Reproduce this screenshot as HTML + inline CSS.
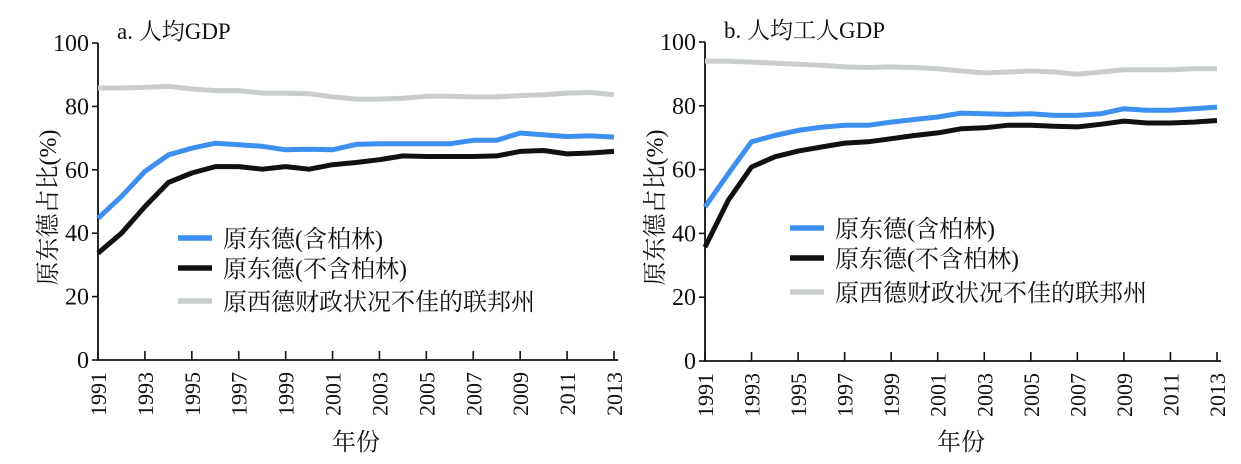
<!DOCTYPE html>
<html><head><meta charset="utf-8"><style>
body{margin:0;background:#fff;}
svg text{font-family:"Liberation Serif","Noto Serif CJK SC",serif;fill:#111;}
</style></head><body>
<svg id="c" width="1241" height="459"></svg>
<script>
const years=[1991,1992,1993,1994,1995,1996,1997,1998,1999,2000,2001,2002,2003,2004,2005,2006,2007,2008,2009,2010,2011,2012,2013];
const tickYears=[1991,1993,1995,1997,1999,2001,2003,2005,2007,2009,2011,2013];
const yTicks=[0,20,40,60,80,100];
const aBlue=[44.7,51.6,59.5,64.7,66.8,68.4,67.9,67.4,66.3,66.5,66.3,68,68.2,68.2,68.2,68.2,69.3,69.3,71.6,71,70.5,70.7,70.3];
const aBlack=[33.7,40,48.4,56,59,61,61,60.2,61,60.2,61.6,62.3,63.2,64.4,64.2,64.2,64.2,64.4,65.8,66.1,65,65.3,65.8];
const aGray=[85.8,85.8,86,86.3,85.5,85,85,84.2,84.2,84,83,82.3,82.3,82.6,83.2,83.2,83,83,83.4,83.7,84.2,84.4,83.7];
const bBlue=[48.3,58.7,68.7,70.7,72.3,73.3,73.9,73.9,74.9,75.7,76.5,77.7,77.5,77.3,77.5,77,77,77.5,79.1,78.6,78.6,79.1,79.6];
const bBlack=[35.7,50.4,60.8,64,65.8,67.1,68.3,68.7,69.7,70.7,71.5,72.8,73.1,73.9,73.9,73.6,73.4,74.2,75.2,74.6,74.6,74.9,75.4];
const bGray=[94,94,93.7,93.4,93,92.7,92.2,92,92.2,92,91.6,90.9,90.3,90.6,90.9,90.6,89.9,90.6,91.3,91.3,91.3,91.6,91.6];
const legendLabels=["原东德(含柏林)","原东德(不含柏林)","原西德财政状况不佳的联邦州"];
const colors=["#3d8ff0","#111111","#c9cdcd"];
const NS="http://www.w3.org/2000/svg";
const svg=document.getElementById('c');
function mk(tag,attrs,parent,text){const e=document.createElementNS(NS,tag);for(const k in attrs)e.setAttribute(k,attrs[k]);if(text!==undefined)e.textContent=text;(parent||svg).appendChild(e);return e;}
function panel(P){
  const g=mk('g',{});
  
  
  const xs=y=>P.x0+(y-1991)/(2013-1991)*(P.x1-P.x0);
  const ys=v=>P.yb-(v/100)*(P.yb-P.yt);
  const ax=mk('path',{d:`M${P.x0},${P.yt} V${P.yb} H${P.x1+4}`,stroke:'#111','stroke-width':1.8,fill:'none'},g);
  
  
  yTicks.forEach(v=>{
    mk('line',{x1:P.x0-6,x2:P.x0,y1:ys(v),y2:ys(v),stroke:'#111','stroke-width':1.6},g);
    const t=mk('text',{x:P.x0-9,y:ys(v)+8,'text-anchor':'end','font-size':24},g,String(v));
    
    
  });
  tickYears.forEach(yr=>{
    const x=xs(yr);
    mk('line',{x1:x,x2:x,y1:P.yb,y2:P.yb-9,stroke:'#111','stroke-width':1.6},g);
    const t=mk('text',{x:0,y:0,'text-anchor':'end','font-size':22,transform:`translate(${x+8},${P.yb+12}) rotate(-90)`},g,String(yr));
    
    
  });
  const tt=mk('text',{x:P.x0+19,y:P.yt-4,'font-size':23},g,P.title);
  
  
  const xt=mk('text',{x:(P.x0+P.x1)/2,y:450,'text-anchor':'middle','font-size':24},g,'年份');
  
  
  const yt=mk('text',{x:0,y:0,'text-anchor':'middle','font-size':24,transform:`translate(${P.x0-42},${(P.yt+P.yb)/2+6}) rotate(-90)`},g,'原东德占比(%)');
  
  
  [[P.gray,2],[P.black,1],[P.blue,0]].forEach(([arr,ci])=>{
    const d=arr.map((v,i)=>(i?'L':'M')+xs(years[i]).toFixed(1)+','+ys(v).toFixed(1)).join(' ');
    const p=mk('path',{d,stroke:colors[ci],'stroke-width':5,fill:'none','stroke-linejoin':'round'},g);
    
    
  });
  legendLabels.forEach((lab,i)=>{
    const y=P.ly[i];
    const l=mk('line',{x1:P.lx,x2:P.lx+34,y1:y,y2:y,stroke:colors[i],'stroke-width':5.5},g);
    
    
    const t=mk('text',{x:P.lx+45,y:y+9,'font-size':24},g,lab);
    
    
  });
}
panel({name:'panel-a',title:'a. 人均GDP',x0:98,x1:614,yt:43,yb:360,blue:aBlue,black:aBlack,gray:aGray,lx:178,ly:[238,268,301]});
panel({name:'panel-b',title:'b. 人均工人GDP',x0:705,x1:1217,yt:42,yb:361,blue:bBlue,black:bBlack,gray:bGray,lx:790,ly:[228,258,292]});
</script>
</body></html>
